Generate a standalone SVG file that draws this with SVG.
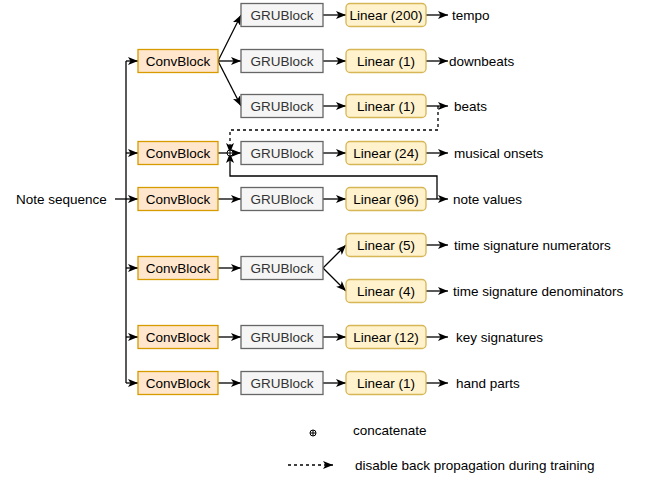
<svg xmlns="http://www.w3.org/2000/svg" width="656" height="479" viewBox="0 0 656 479">
<style>
text{font-family:"Liberation Sans",Arial,Helvetica,sans-serif;font-size:13.5px;fill:#000}
.conv{fill:#ffe6cc;stroke:#d79b00;stroke-width:1.3}
.gru{fill:#f5f5f5;stroke:#666;stroke-width:1.3}
.lin{fill:#fff2cc;stroke:#d6b656;stroke-width:1.3}
.gt{fill:#333}
.c{text-anchor:middle}
.e{fill:none;stroke:#000;stroke-width:1.3}
.d{stroke-dasharray:3 3}
</style>
<defs>
<marker id="a" viewBox="0 0 10 8" refX="10" refY="4" markerWidth="10" markerHeight="8" markerUnits="userSpaceOnUse" orient="auto">
<path d="M0,0 L10,4 L0,8 L2.5,4 z" fill="#000"/>
</marker>
</defs>
<g id="connectors">
<path class="e" d="M115,199 H138" marker-end="url(#a)"/>
<path class="e" d="M126,61 V383"/>
<path class="e" d="M126,61 H138" marker-end="url(#a)"/>
<path class="e" d="M126,153 H138" marker-end="url(#a)"/>
<path class="e" d="M126,268 H138" marker-end="url(#a)"/>
<path class="e" d="M126,337 H138" marker-end="url(#a)"/>
<path class="e" d="M126,383 H138" marker-end="url(#a)"/>
<path class="e" d="M218,61 L241,15" marker-end="url(#a)"/>
<path class="e" d="M218,61 H241" marker-end="url(#a)"/>
<path class="e" d="M218,61 L241,106" marker-end="url(#a)"/>
<path class="e" d="M218,153 H241" marker-end="url(#a)"/>
<path class="e" d="M218,199 H241" marker-end="url(#a)"/>
<path class="e" d="M218,268 H241" marker-end="url(#a)"/>
<path class="e" d="M218,337 H241" marker-end="url(#a)"/>
<path class="e" d="M218,383 H241" marker-end="url(#a)"/>
<path class="e" d="M323,15 H346" marker-end="url(#a)"/>
<path class="e" d="M323,61 H346" marker-end="url(#a)"/>
<path class="e" d="M323,106 H346" marker-end="url(#a)"/>
<path class="e" d="M323,153 H346" marker-end="url(#a)"/>
<path class="e" d="M323,199 H346" marker-end="url(#a)"/>
<path class="e" d="M323,268 L346,245" marker-end="url(#a)"/>
<path class="e" d="M323,268 L346,291" marker-end="url(#a)"/>
<path class="e" d="M323,337 H346" marker-end="url(#a)"/>
<path class="e" d="M323,383 H346" marker-end="url(#a)"/>
<path class="e" d="M426,15 H448" marker-end="url(#a)"/>
<path class="e" d="M426,61 H448" marker-end="url(#a)"/>
<path class="e" d="M426,106 H448" marker-end="url(#a)"/>
<path class="e" d="M426,153 H448" marker-end="url(#a)"/>
<path class="e" d="M426,199 H448" marker-end="url(#a)"/>
<path class="e" d="M426,245 H448" marker-end="url(#a)"/>
<path class="e" d="M426,291 H448" marker-end="url(#a)"/>
<path class="e" d="M426,337 H448" marker-end="url(#a)"/>
<path class="e" d="M426,383 H448" marker-end="url(#a)"/>
<path class="e d" d="M438,106 V130 H230 V153" marker-end="url(#a)"/>
<path class="e" d="M437,199 V176 H230 V153" marker-end="url(#a)"/>
</g>
<g id="concat">
<circle cx="230" cy="153" r="3" fill="#fff" stroke="#000" stroke-width="1"/>
<path d="M227,153 H233 M230,150 V156" stroke="#000" stroke-width="1"/>
</g>
<g id="note-sequence"><text x="16" y="204">Note sequence</text></g>
<g id="conv1"><rect class="conv" x="138" y="49.5" width="80" height="23"/><text class="c" x="178" y="66">ConvBlock</text></g>
<g id="conv2"><rect class="conv" x="138" y="141.5" width="80" height="23"/><text class="c" x="178" y="158">ConvBlock</text></g>
<g id="conv3"><rect class="conv" x="138" y="187.5" width="80" height="23"/><text class="c" x="178" y="204">ConvBlock</text></g>
<g id="conv4"><rect class="conv" x="138" y="256.5" width="80" height="23"/><text class="c" x="178" y="273">ConvBlock</text></g>
<g id="conv5"><rect class="conv" x="138" y="325.5" width="80" height="23"/><text class="c" x="178" y="342">ConvBlock</text></g>
<g id="conv6"><rect class="conv" x="138" y="371.5" width="80" height="23"/><text class="c" x="178" y="388">ConvBlock</text></g>
<g id="gru1"><rect class="gru" x="241" y="3.5" width="82" height="23"/><text class="c gt" x="282" y="20">GRUBlock</text></g>
<g id="gru2"><rect class="gru" x="241" y="49.5" width="82" height="23"/><text class="c gt" x="282" y="66">GRUBlock</text></g>
<g id="gru3"><rect class="gru" x="241" y="94.5" width="82" height="23"/><text class="c gt" x="282" y="111">GRUBlock</text></g>
<g id="gru4"><rect class="gru" x="241" y="141.5" width="82" height="23"/><text class="c gt" x="282" y="158">GRUBlock</text></g>
<g id="gru5"><rect class="gru" x="241" y="187.5" width="82" height="23"/><text class="c gt" x="282" y="204">GRUBlock</text></g>
<g id="gru6"><rect class="gru" x="241" y="256.5" width="82" height="23"/><text class="c gt" x="282" y="273">GRUBlock</text></g>
<g id="gru7"><rect class="gru" x="241" y="325.5" width="82" height="23"/><text class="c gt" x="282" y="342">GRUBlock</text></g>
<g id="gru8"><rect class="gru" x="241" y="371.5" width="82" height="23"/><text class="c gt" x="282" y="388">GRUBlock</text></g>
<g id="lin1"><rect class="lin" x="346" y="3.5" width="80" height="23" rx="4"/><text class="c" x="386" y="20">Linear (200)</text></g>
<g id="lin2"><rect class="lin" x="346" y="49.5" width="80" height="23" rx="4"/><text class="c" x="386" y="66">Linear (1)</text></g>
<g id="lin3"><rect class="lin" x="346" y="94.5" width="80" height="23" rx="4"/><text class="c" x="386" y="111">Linear (1)</text></g>
<g id="lin4"><rect class="lin" x="346" y="141.5" width="80" height="23" rx="4"/><text class="c" x="386" y="158">Linear (24)</text></g>
<g id="lin5"><rect class="lin" x="346" y="187.5" width="80" height="23" rx="4"/><text class="c" x="386" y="204">Linear (96)</text></g>
<g id="lin6"><rect class="lin" x="346" y="233.5" width="80" height="23" rx="4"/><text class="c" x="386" y="250">Linear (5)</text></g>
<g id="lin7"><rect class="lin" x="346" y="279.5" width="80" height="23" rx="4"/><text class="c" x="386" y="296">Linear (4)</text></g>
<g id="lin8"><rect class="lin" x="346" y="325.5" width="80" height="23" rx="4"/><text class="c" x="386" y="342">Linear (12)</text></g>
<g id="lin9"><rect class="lin" x="346" y="371.5" width="80" height="23" rx="4"/><text class="c" x="386" y="388">Linear (1)</text></g>
<g id="out-tempo"><text x="452" y="20">tempo</text></g>
<g id="out-downbeats"><text x="449" y="66">downbeats</text></g>
<g id="out-beats"><text x="454" y="111">beats</text></g>
<g id="out-onsets"><text x="454" y="158">musical onsets</text></g>
<g id="out-notevalues"><text x="453" y="204">note values</text></g>
<g id="out-num"><text x="454" y="250">time signature numerators</text></g>
<g id="out-den"><text x="453" y="296">time signature denominators</text></g>
<g id="out-key"><text x="456" y="342">key signatures</text></g>
<g id="out-hand"><text x="456" y="388">hand parts</text></g>
<g id="legend">
<circle cx="313" cy="433" r="3" fill="#fff" stroke="#000" stroke-width="1"/>
<path d="M310,433 H316 M313,430 V436" stroke="#000" stroke-width="1"/>
<text x="353" y="435">concatenate</text>
<path class="e d" d="M288,465 H333" marker-end="url(#a)"/>
<text x="355" y="470">disable back propagation during training</text>
</g>
</svg>
